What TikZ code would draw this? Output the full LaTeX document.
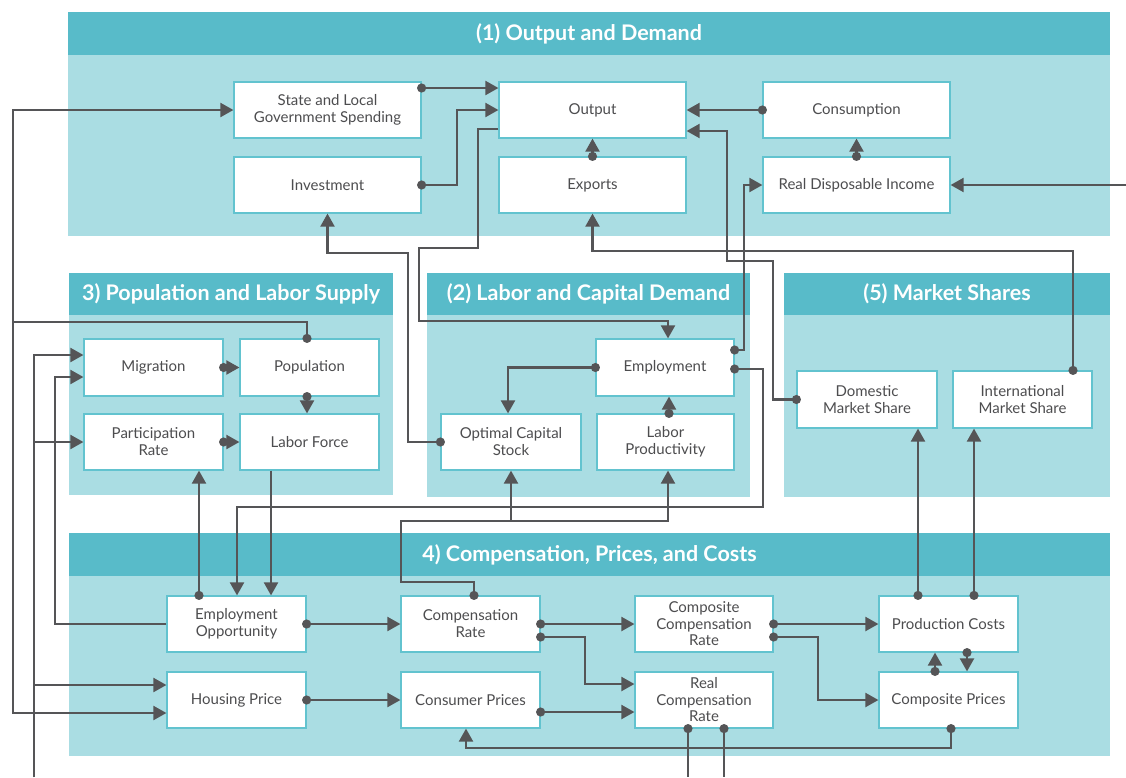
\documentclass[tikz,border=0pt]{standalone}
\usepackage{fontspec}
\setmainfont{Lato}
\usetikzlibrary{arrows.meta,calc}
\definecolor{hdrc}{HTML}{58BBC9}
\definecolor{bdyc}{HTML}{AADDE3}
\definecolor{bxb}{HTML}{62C3CF}
\definecolor{lnc}{HTML}{555557}
\definecolor{txc}{HTML}{4D4D4F}
\begin{document}
\begin{tikzpicture}[x=1pt,y=-1pt,
  box/.style={draw=bxb, line width=1.2pt, fill=white, inner sep=2pt, align=center,
    text=txc, font=\fontsize{15}{17}\selectfont},
  bw/.style={box, minimum width=187, minimum height=56},
  bs/.style={box, minimum width=139, minimum height=56},
  bt/.style={box, minimum width=139, minimum height=57},
  hdr/.style={fill=hdrc, draw=none, inner sep=0pt, text=white,
    font=\bfseries\fontsize{21.5}{24}\selectfont},
  lk/.style={draw=lnc, line width=2.1pt},
  al/.style={lk, -{Triangle[length=13pt,width=14pt]}},
  dl/.style={lk, {Circle[length=9pt]}-{Triangle[length=13pt,width=14pt]}, shorten <=-4.5pt},
  dt/.style={lk, {Circle[length=9pt]}-, shorten <=-4.5pt}
]
\useasboundingbox (0,0) rectangle (1126,777);
\fill[white] (0,0) rectangle (1126,777);

% panels
\fill[bdyc] (68,55) rectangle (1110,236);
\node[hdr, minimum width=1042, minimum height=43] (h1) at (589,33.5) {(1) Output and Demand};
\fill[bdyc] (69,315) rectangle (393,495);
\node[hdr, minimum width=324, minimum height=42] (h3) at (231,294) {3) Population and Labor Supply};
\fill[bdyc] (427,315) rectangle (750,497);
\node[hdr, minimum width=323, minimum height=42] (h2) at (588.5,294) {(2) Labor and Capital Demand};
\fill[bdyc] (784,315) rectangle (1110,497);
\node[hdr, minimum width=326, minimum height=42] (h5) at (947,294) {(5) Market Shares};
\fill[bdyc] (69,576) rectangle (1110,756);
\node[hdr, minimum width=1041, minimum height=43] (h4) at (589.5,554.5) {4) Compensation, Prices, and Costs};

% boxes panel 1
\node[bw] (slgs) at (327.5,110) {State and Local\\Government Spending};
\node[bw] (inv) at (327.5,185) {Investment};
\node[bw] (out) at (592.5,110) {Output};
\node[bw] (exp) at (592.5,185) {Exports};
\node[bw] (con) at (856.5,110) {Consumption};
\node[bw] (rdi) at (856.5,185) {Real Disposable Income};

% panel 3
\node[bt] (mig) at (153.5,367.5) {Migration};
\node[bt] (pop) at (309.5,367.5) {Population};
\node[bs] (part) at (153.5,442) {Participation\\Rate};
\node[bs] (lab) at (309.5,442) {Labor Force};

% panel 2
\node[bt, minimum width=138] (emp) at (665,367.5) {Employment};
\node[bs, minimum width=140] (ocs) at (511,442) {Optimal Capital\\Stock};
\node[bs, minimum width=137] (lp) at (665.5,442) {Labor\\Productivity};

% panel 5
\node[bt, minimum width=140] (dms) at (867,399.5) {Domestic\\Market Share};
\node[bt] (ims) at (1022.5,399.5) {International\\Market Share};

% panel 4
\node[bs] (eo) at (236.5,624) {Employment\\Opportunity};
\node[bs] (comp) at (470.5,624) {Compensation\\Rate};
\node[bs] (hp) at (236.5,700) {Housing Price};
\node[bs] (cp) at (470.5,700) {Consumer Prices};
\node[bs, minimum width=138, font=\fontsize{15}{16.5}\selectfont] (ccr) at (704,624) {Composite\\Compensation\\Rate};
\node[bs, minimum width=138, font=\fontsize{15}{16.5}\selectfont] (rcr) at (704,700) {Real\\Compensation\\Rate};
\node[bs] (pc) at (948.5,624) {Production Costs};
\node[bs] (cpr) at (948.5,700) {Composite Prices};

% free ends and junctions
\coordinate (ext1) at (1126,185);
\coordinate (ext2) at (34,777);
\coordinate (ext3) at (688,777);
\coordinate (ext4) at (724,777);
\coordinate (j1) at (13,322);
\coordinate (j2) at (511,521);

% connectors panel 1
\draw[dl] (slgs.east |- 0,88) -- (out.west |- 0,88);
\draw[dl] (inv.east) -| (457,150) |- (out.west);
\draw[al] (out.west |- 0,129) -- (478,129) -- (478,248) -- (419,248) -- (419,321) -| (emp.north -| 668,0);
\draw[dl] (ocs.west) -| (408,253) -| (inv.south);
\draw[dl] (ims.north -| 1073,0) -- (1073,251) -| (exp.south);
\draw[dl] (dms.west) -| (773,261) -| (727,131) -- (out.east |- 0,131);
\draw[dl] (emp.east |- 0,350) -| (744,185) -- (rdi.west);
\draw[al] (ext1) -- (rdi.east);
\draw[dl] (con.west) -- (out.east);
\draw[dl] (exp.north) -- (out.south);
\draw[dl] (rdi.north) -- (con.south);

% left side
\draw[dl] (pop.north -| 307,0) |- (j1) |- (slgs.west);
\draw[al] (j1) |- (hp.west |- 0,713);
\draw[al] (ext2) |- (mig.west |- 0,355);
\draw[al] (ext2) |- (part.west);
\draw[al] (ext2) |- (hp.west |- 0,685);
\draw[al] (eo.west) -| (55,377) -- (mig.west |- 0,377);

% panel 3 internal
\draw[dl] (mig.east) -- (pop.west);
\draw[dl] (part.east) -- (lab.west);
\draw[dl] (pop.south -| 307,0) -- (lab.north -| 307,0);
\draw[al] (lab.south -| 271,0) -- (eo.north -| 271,0);
\draw[dl] (eo.north -| 199,0) -- (part.south -| 199,0);

% panel 2 internal and links
\draw[dl] (emp.east |- 0,369) -| (763,507) -| (eo.north -| 237,0);
\draw[dl] (comp.north -| 474,0) -- (474,582) -| (401,521) -| (lp.south -| 668,0);
\draw[al] (j2) -- (ocs.south);
\draw[dl] (lp.north -| 669,0) -- (emp.south -| 669,0);
\draw[dl] (emp.west) -| (ocs.north -| 508,0);

% panel 4
\draw[dl] (eo.east) -- (comp.west);
\draw[dl] (hp.east) -- (cp.west);
\draw[dl] (comp.east) -- (ccr.west);
\draw[dl] (comp.east |- 0,637) -| (585,684) -- (rcr.west |- 0,684);
\draw[dl] (cp.east |- 0,712) -- (rcr.west |- 0,712);
\draw[dl] (ccr.east) -- (pc.west);
\draw[dl] (ccr.east |- 0,637) -| (818,700) -- (cpr.west);
\draw[dl] (cpr.north -| 935,0) -- (pc.south -| 935,0);
\draw[dl] (pc.south -| 967,0) -- (cpr.north -| 967,0);
\draw[dl] (pc.north -| 918,0) -- (dms.south -| 918,0);
\draw[dl] (pc.north -| 974,0) -- (ims.south -| 974,0);
\draw[dl] (cpr.south -| 951,0) |- (466,748) -- (cp.south -| 466,0);
\draw[dt] (rcr.south -| 688,0) -- (ext3);
\draw[dt] (rcr.south -| 724,0) -- (ext4);
\end{tikzpicture}
\end{document}
